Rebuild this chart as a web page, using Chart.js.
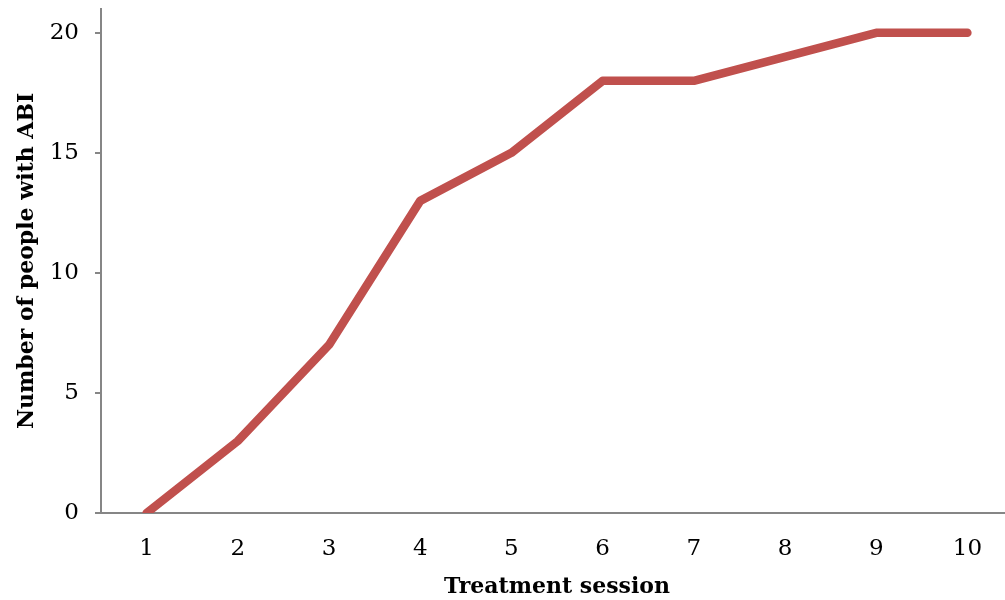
<!DOCTYPE html>
<html>
<head>
<meta charset="utf-8">
<script src="https://cdn.jsdelivr.net/npm/chart.js@4.4.1/dist/chart.umd.min.js"></script>
<style>
html,body{margin:0;padding:0;overflow:hidden;background:#fff;}
#wrap{width:1013px;height:621px;position:relative;margin-top:-21px;}
</style>
</head>
<body>
<div id="wrap"><canvas id="c" width="1013" height="621"></canvas></div>
<script>
const sessions = ['1','2','3','4','5','6','7','8','9','10'];
const peopleWithABI = [0, 3, 7, 13, 15, 18, 18, 19, 20, 20];
const yTicks = [0, 5, 10, 15, 20];
const xTitle = 'Treatment session';
const yTitle = 'Number of people with ABI';

const axisColor = '#868686';
const fontFam = '"DejaVu Serif", serif';

new Chart(document.getElementById('c'), {
  type: 'line',
  data: {
    labels: sessions,
    datasets: [{
      data: peopleWithABI,
      borderColor: '#C0504D',
      backgroundColor: '#C0504D',
      borderWidth: 8.5,
      borderCapStyle: 'round',
      borderJoinStyle: 'round',
      pointRadius: 0,
      tension: 0,
      fill: false
    }]
  },
  options: {
    responsive: false,
    animation: false,
    layout: { padding: { top: 9, right: 0, left: 0, bottom: 0 } },
    plugins: { legend: { display: false }, tooltip: { enabled: false } },
    scales: {
      x: {
        offset: true,
        grid: { display: true, drawOnChartArea: false, drawTicks: false, color: axisColor, offset: true },
        border: { display: true, color: axisColor, width: 2 },
        ticks: { color: '#000', font: { family: fontFam, size: 23 }, padding: 22, maxRotation: 0 },
        title: { display: true, text: xTitle, color: '#000', font: { family: fontFam, size: 22, weight: 'bold' }, padding: { top: 4, bottom: 0 } },
        afterFit: s => { s.height = 87; }
      },
      y: {
        min: 0,
        max: 21,
        afterBuildTicks: s => { s.ticks = yTicks.map(v => ({ value: v })); },
        grid: { display: true, drawOnChartArea: false, drawTicks: true, tickLength: 6, color: axisColor, lineWidth: 2 },
        border: { display: true, color: axisColor, width: 2 },
        ticks: { color: '#000', font: { family: fontFam, size: 23 }, padding: 16 },
        title: { display: true, text: yTitle, color: '#000', font: { family: fontFam, size: 22, weight: 'bold' }, padding: { top: 14, bottom: 4 } },
        afterFit: s => { s.width = 101; }
      }
    }
  }
});
</script>
</body>
</html>
